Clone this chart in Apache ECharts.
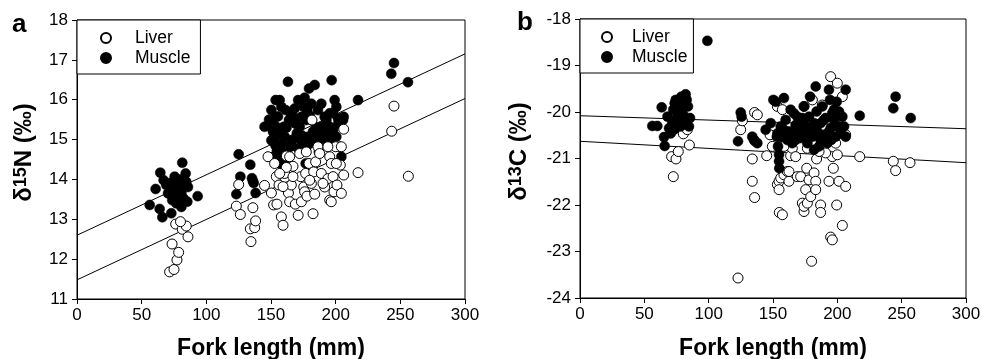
<!DOCTYPE html>
<html>
<head>
<meta charset="utf-8">
<script src="https://cdn.jsdelivr.net/npm/echarts@6/dist/echarts.min.js"></script>
<style>html,body{margin:0;padding:0;background:#fff;}#c{width:982px;height:359px;}</style>
</head>
<body>
<div id="c"></div>
<script>
// ---- Panel a: delta15N vs fork length ----
var liverA_fl = [71.6,75,77.3,78.6,73.5,76.3,81.4,85.8,84.5,80,123.2,125,126.3,134,134.5,136,137.4,138.1,145,147.7,150.3,152,152.8,154.1,154.6,156.2,158,159.3,160.6,161.9,163.5,164.4,165.7,167,168.8,171,173,173.5,175.3,176,176.8,177.8,179.4,181.2,182.5,183,183.8,184.5,186.3,188.9,191.5,194,195.4,196.6,195.4,196.6,198,198.7,200,201,203.6,204.4,204.4,206.2,206.2,217.3,243.3,245.1,256.2,181.7,159.3,161.9,167,172.2,177.3,187.6,190.2,200.5,156.7,164.4,194,179.9];
var liverA_n  = [11.68,11.74,11.98,12.17,12.38,12.88,12.75,12.56,12.83,12.94,13.33,13.87,13.12,12.76,12.44,13.29,12.79,12.96,13.85,14.57,13.66,13.36,14.4,14.07,13.38,13.86,13.06,12.85,14.15,14.59,13.66,13.44,13.86,14.33,13.38,13.1,14.07,13.44,13.81,13.69,14.15,13.58,14.4,13.9,13.14,14.19,13.63,14.44,14.82,14.15,13.81,14.02,13.48,13.44,14.57,14.4,14.07,13.69,14.82,13.86,14.36,14.82,13.65,14.11,15.26,14.17,15.21,15.84,14.08,15.49,13.82,14.3,14.07,14.65,14.69,14.65,13.9,14.4,14.15,14.57,14.82,13.98];
var muscleA_fl = [56.2,60.8,64.4,63.9,66,67,69,70.4,72.2,72.9,73.7,74.7,75.5,76.8,78,79.4,80.7,81.4,82.5,84,84.5,85.3,85.8,93.3,75.8,78.9,76.3,74.2,80.7,123.2,125,126.3,134,135.3,136.6,138.1,136,145,148.5,150.3,151.5,152.8,153.6,154.6,155.4,156.7,158,158.8,159.8,160.6,161.3,163.1,163.9,164.4,165,166.5,168.3,170,171,172.2,173.5,175.3,176,176.8,177.3,178.6,179.4,181.2,182.5,183.8,184.5,186.3,187,188.9,190.7,192.8,194,195.4,196.9,198,199.2,200.5,201.8,203.1,204.4,205.7,206.2,217.3,243,245.1,255.9,150.3,154.1,156.2,159.3,161.9,167,173.5,177.3,179.9,183.8,187.6,191.5,195.4,198,200.5,152,157.2,153,156.7,171,181.2,188.9,151,155,162,169,174,180,185,190,196,202,153.5,158,165.5,178,192];
var muscleA_n  = [13.36,13.76,14.17,13.26,13.05,13.98,13.86,13.65,13.91,13.15,13.48,13.73,14.07,13.4,13.61,13.82,13.31,14.42,13.52,14.15,13.94,13.44,13.81,13.58,13.88,14.0,13.69,13.61,13.66,13.63,14.63,14.07,14.37,14.03,13.91,13.66,13.96,15.32,15.5,15.74,15.2,14.94,15.99,14.73,15.58,14.57,15.82,14.36,15.32,15.07,15.74,16.45,15.49,14.37,14.82,14.98,15.78,15.16,14.78,15.32,15.57,15.82,16.05,14.4,15.49,15.07,16.28,15.9,15.2,16.37,14.98,15.74,14.69,15.32,15.15,15.49,15.07,15.66,16.49,15.24,15.99,15.82,15.53,14.82,14.57,15.49,15.57,15.99,16.65,16.92,16.44,14.98,15.32,15.15,14.9,14.65,15.57,14.98,14.82,14.9,15.15,14.98,15.57,15.32,15.66,15.07,14.57,14.78,15.57,15.99,15.99,15.49,15.9,15.4,15.1,15.3,15.4,15.1,15.6,15.3,15.0,15.0,15.4,14.85,15.2,15.65,15.75,15.25];

// ---- Panel b: delta13C vs fork length ----
var liverB_fl = [71.2,72.5,74.6,76.4,80.3,85,83.4,122.8,124.9,126.2,133.9,133.9,135.7,137.8,135.7,145.1,147.7,149.5,153.4,153.4,154.7,154.7,154.9,157.3,156,158.5,161.1,162.4,163.7,165,162.4,168.9,171.5,172.8,174.1,174.1,175.4,176.2,176.7,178,179.3,180,181.9,183.2,183.2,183.9,187,187,189.6,193.5,194.8,196.1,196.9,196.1,194.8,200,199.5,201.3,200,203.9,203.9,206.5,206.5,217.4,243.5,245.3,256.5,157.3,174.1,180.6,188.3,190.9,167.6,176.7,185.8,158.5,198.7];
var liverB_c  = [-20.96,-21.39,-21.01,-20.85,-20.47,-20.71,-20.38,-23.57,-20.38,-20.19,-21.01,-21.49,-20.01,-20.06,-21.84,-20.94,-20.49,-20.74,-19.88,-21.56,-21.49,-21.67,-22.16,-22.21,-21.42,-21.35,-21.28,-21.49,-20.94,-20.78,-21.28,-21.39,-21.39,-21.96,-22.14,-22.03,-21.67,-21.21,-21.96,-21.46,-21.82,-23.21,-21.31,-21.49,-21.67,-21.01,-22.0,-22.16,-20.74,-21.49,-22.69,-22.75,-21.21,-20.96,-19.24,-19.38,-22.0,-21.49,-20.92,-22.44,-19.67,-21.6,-20.49,-20.96,-21.06,-21.26,-21.09,-19.95,-19.88,-19.74,-19.85,-20.88,-20.96,-20.78,-20.85,-20.74,-20.67];
var muscleB_fl = [99,56.2,60.1,63.5,65.3,65.8,68,69.2,70.5,71.8,72.5,73.6,74.4,75.1,75.6,76.4,77,77.7,78.8,79.5,80.3,80.8,82.1,82.9,83.4,83.9,84.7,85.5,78.2,73,122.8,124.9,125.6,133.9,136,137.8,135.2,144.3,148.2,150.3,152.1,153.4,153.9,154.7,154.7,154.9,156,157.3,158.5,159.8,161.1,162.4,163.7,165,166.3,167.6,168.9,170.2,171.5,172.8,174.1,175.4,176.7,178,178.8,179.3,180.6,181.9,183.2,183.9,184.5,185.8,187,188.3,189.6,190.9,192.2,193.5,194.3,194.8,195.3,196.1,197.4,198.7,199.5,200,201.3,202.6,203.9,205.2,206.5,206.5,217.4,243.5,245.3,257,156,158.5,162.4,165,167.6,171.5,174.1,176.7,181.9,187,189.6,193.5,197.4,201.3,153,168.9];
var muscleB_c  = [-18.47,-20.3,-20.3,-19.9,-20.54,-20.73,-20.1,-20.35,-20.46,-20.24,-19.95,-19.81,-19.74,-20.13,-20.31,-19.99,-20.2,-19.95,-19.67,-19.74,-20.06,-19.88,-19.62,-19.74,-20.17,-19.88,-20.31,-20.13,-20.31,-20.38,-20.63,-20.01,-20.1,-20.53,-20.63,-20.67,-20.6,-20.38,-20.24,-19.74,-19.78,-20.46,-20.74,-20.92,-21.06,-21.21,-20.31,-20.53,-19.7,-20.17,-20.6,-20.42,-19.95,-20.67,-20.03,-20.28,-20.49,-20.31,-20.56,-20.13,-19.88,-20.42,-20.67,-20.1,-19.67,-20.35,-20.53,-20.81,-19.45,-19.99,-20.42,-20.74,-20.24,-19.88,-20.49,-20.13,-20.67,-19.52,-19.74,-20.35,-20.6,-20.02,-20.17,-20.53,-19.78,-20.31,-19.99,-20.46,-20.1,-20.31,-19.52,-20.53,-20.08,-19.92,-19.67,-20.13,-20.53,-20.38,-20.6,-20.46,-20.6,-20.35,-20.24,-20.46,-20.24,-20.6,-20.17,-20.42,-19.95,-20.31,-20.53,-20.1];

// ---- Regression lines (endpoints at fork length 0 and 300) ----
var fitX = [0, 300];
var fitMuscleA = [12.6, 17.15];
var fitLiverA = [11.48, 16.03];
var fitMuscleB = [-20.08, -20.36];
var fitLiverB = [-20.63, -21.09];

var xTicks = [0, 50, 100, 150, 200, 250, 300];
var legendNames = ['Liver', 'Muscle'];

function zip(a, b) { return a.map(function (v, i) { return [v, b[i]]; }); }

var FONT = 'Liberation Sans, Arial, sans-serif';
var chart = echarts.init(document.getElementById('c'), null, { renderer: 'canvas' });

function xAx(gi, gap) {
  return {
    gridIndex: gi, type: 'value', min: xTicks[0], max: xTicks[xTicks.length - 1], interval: 50,
    name: 'Fork length (mm)', nameLocation: 'middle', nameGap: gap,
    nameTextStyle: { fontFamily: FONT, fontSize: 23, fontWeight: 'bold', color: '#000' },
    axisLine: { lineStyle: { color: '#000', width: 1 } },
    axisTick: { length: 5, lineStyle: { color: '#000' } },
    axisLabel: { fontFamily: FONT, fontSize: 17, color: '#000', margin: 8 },
    splitLine: { show: false }
  };
}
function yAx(gi, min, max, name, gap) {
  return {
    gridIndex: gi, type: 'value', min: min, max: max, interval: 1,
    name: name, nameLocation: 'middle', nameRotate: 90, nameGap: gap,
    nameTextStyle: {
      fontFamily: FONT, fontSize: 24, fontWeight: 'bold', color: '#000', padding: [0, 0, 0, 14],
      rich: {
        b: { fontFamily: FONT, fontSize: 24, fontWeight: 'bold', color: '#000', verticalAlign: 'bottom' },
        s: { fontFamily: FONT, fontSize: 18, fontWeight: 'bold', color: '#000', verticalAlign: 'top' }
      }
    },
    axisLine: { lineStyle: { color: '#000', width: 1 } },
    axisTick: { length: 5, lineStyle: { color: '#000' } },
    axisLabel: { fontFamily: FONT, fontSize: 17, color: '#000', margin: 9 },
    splitLine: { show: false }
  };
}

function legend(left, top, gapW, pad) {
  return {
    data: legendNames, orient: 'vertical', left: left, top: top,
    backgroundColor: '#fff', borderColor: '#000', borderWidth: 1,
    padding: pad, itemGap: 2, itemWidth: 10, itemHeight: 10, icon: 'circle',
    formatter: function (n) { return '{g|}' + n; },
    textStyle: { fontFamily: FONT, fontSize: 17.5, color: '#000', rich: { g: { width: gapW } } },
    selectedMode: false
  };
}

function fitLine(name, gi, ys) {
  return {
    name: name, type: 'line', xAxisIndex: gi, yAxisIndex: gi, data: zip(fitX, ys),
    symbol: 'none', lineStyle: { color: '#000', width: 1 }, z: 1, silent: true
  };
}
var liverStyle = { color: '#fff', borderColor: '#000', borderWidth: 1, opacity: 1 };
var muscleStyle = { color: '#000', borderColor: '#000', borderWidth: 0.5, opacity: 1 };

var option = {
  animation: false,
  backgroundColor: '#fff',
  grid: [
    { left: 77, top: 20, width: 388, height: 279, show: true, borderColor: '#000', borderWidth: 1, backgroundColor: 'transparent', containLabel: false, outerBoundsMode: 'none' },
    { left: 580, top: 19, width: 386, height: 279, show: true, borderColor: '#000', borderWidth: 1, backgroundColor: 'transparent', containLabel: false, outerBoundsMode: 'none' }
  ],
  xAxis: [xAx(0, 38), xAx(1, 39)],
  yAxis: [
    yAx(0, 11, 18, '{b|δ}{s|15}{b|N (‰)}', 41),
    yAx(1, -24, -18, '{b|δ}{s|13}{b|C (‰)}', 49)
  ],
  legend: [legend(77, 20, 19, [9, 10, 7, 23]), legend(580, 19, 15, [9, 6, 7, 21])],
  graphic: [
    { type: 'text', left: 12, top: 12, style: { text: 'a', font: 'bold 26px ' + FONT, fill: '#000' } },
    { type: 'text', left: 517, top: 10, style: { text: 'b', font: 'bold 26px ' + FONT, fill: '#000' } }
  ],
  series: [
    fitLine('fitMuscleA', 0, fitMuscleA),
    fitLine('fitLiverA', 0, fitLiverA),
    fitLine('fitMuscleB', 1, fitMuscleB),
    fitLine('fitLiverB', 1, fitLiverB),
    { name: 'Muscle', type: 'scatter', xAxisIndex: 0, yAxisIndex: 0, data: zip(muscleA_fl, muscleA_n), symbol: 'circle', symbolSize: 10, itemStyle: muscleStyle, z: 2 },
    { name: 'Liver', type: 'scatter', xAxisIndex: 0, yAxisIndex: 0, data: zip(liverA_fl, liverA_n), symbol: 'circle', symbolSize: 10, itemStyle: liverStyle, z: 2 },
    { name: 'Liver', type: 'scatter', xAxisIndex: 1, yAxisIndex: 1, data: zip(liverB_fl, liverB_c), symbol: 'circle', symbolSize: 10, itemStyle: liverStyle, z: 2 },
    { name: 'Muscle', type: 'scatter', xAxisIndex: 1, yAxisIndex: 1, data: zip(muscleB_fl, muscleB_c), symbol: 'circle', symbolSize: 10, itemStyle: muscleStyle, z: 2 }
  ]
};
chart.setOption(option);
</script>
</body>
</html>
